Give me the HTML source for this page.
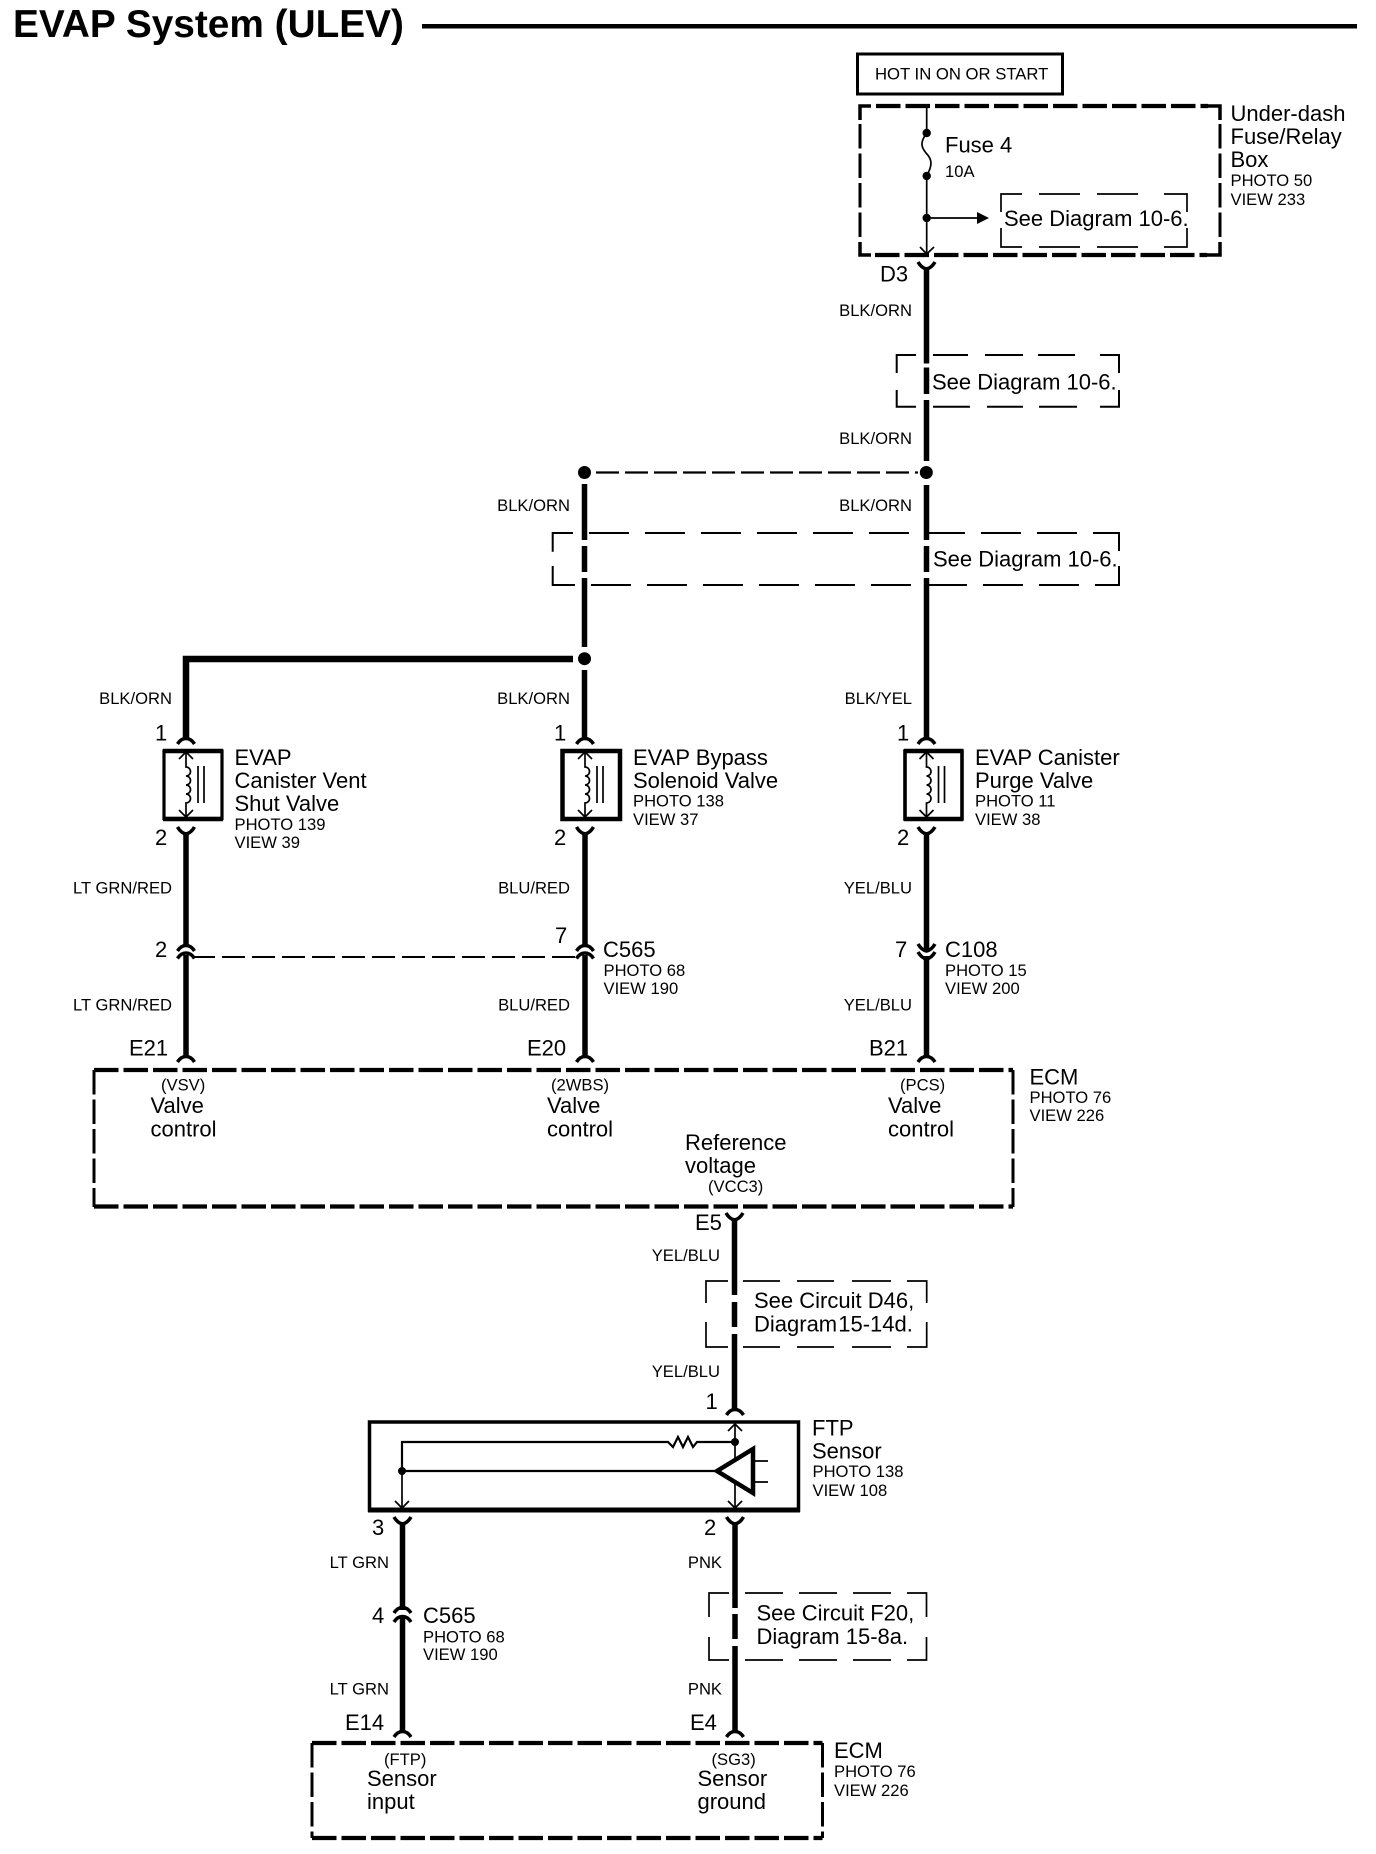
<!DOCTYPE html>
<html><head><meta charset="utf-8"><title>EVAP System (ULEV)</title>
<style>
html,body{margin:0;padding:0;background:#fff}
svg{display:block}
text{font-family:"Liberation Sans",Arial,sans-serif;fill:#000}
.b{font-size:22px}
.s{font-size:16.6px}
.e{text-anchor:end}
.w{fill:none;stroke:#000;stroke-width:5.5}
.t{fill:none;stroke:#000;stroke-width:1.7}
.d{fill:none;stroke:#000;stroke-width:2}
.c{fill:none;stroke:#000;stroke-width:3.5}
.e4{fill:none;stroke:#000;stroke-width:4.2;stroke-dasharray:24.5 5}
.e3{fill:none;stroke:#000;stroke-width:3;stroke-dasharray:24.5 5}
</style></head>
<body>
<svg xmlns="http://www.w3.org/2000/svg" width="1376" height="1854" viewBox="0 0 1376 1854">
<defs>
<path id="arch" class="c" d="M-8.5 7 Q-5 1.5 0 1.5 Q5 1.5 8.5 7"/>
<path id="yy" class="c" d="M-8.5 0 Q-5 6 0 7 Q5 6 8.5 0"/>
<g id="coil">
<path class="t" d="M0 2 V17 a4.5 4.5 0 0 1 0 9 a4.5 4.5 0 0 1 0 9 a4.5 4.5 0 0 1 0 9 a4.5 4.5 0 0 1 0 9 V67"/>
<path class="t" d="M-7 9 L0 2 L7 9 M-7 60 L0 67 L7 60"/>
<path class="t" d="M12 16 V53 M18 16 V53"/>
</g>
</defs>
<rect width="1376" height="1854" fill="#fff"/>

<!-- title -->
<text x="13" y="37" style="font-size:38.8px;font-weight:bold">EVAP System (ULEV)</text>
<rect x="422" y="24" width="935" height="4.5"/>

<!-- hot box -->
<rect x="857.5" y="54" width="205" height="40" fill="none" stroke="#000" stroke-width="3"/>
<text x="875" y="79.5" style="font-size:16.7px">HOT IN ON OR START</text>

<!-- fuse box -->
<path class="e4" d="M876 106 H1208"/>
<path class="c" stroke-width="4" d="M860 120 V106 H871 M1207 106 H1220 V120 M860 242 V255 H871 M1207 255 H1220 V242"/>
<path class="e4" d="M875 255 H1207"/>
<path class="e3" d="M860 124 V242"/>
<path class="e3" d="M1220 124 V242"/>
<path class="t" d="M926.7 106 V133"/>
<circle cx="926.7" cy="133" r="4.2"/>
<path class="t" d="M926.7 133 C920 142 921 147 926 153 C933 160 932 166 926.7 176"/>
<circle cx="926.7" cy="176" r="4.2"/>
<path class="t" d="M926.7 176 V253 M920 247 L926.7 254 L934 247"/>
<circle cx="926.7" cy="218" r="4.2"/>
<path class="t" d="M926.7 218 H980"/>
<path d="M977 212 L989 218 L977 224 Z"/>
<path class="t" d="M1001 212 V194 H1022 M1039 194 H1080 M1097 194 H1138 M1164 194 H1187 V212 M1001 228 V247 H1022 M1039 247 H1080 M1097 247 H1138 M1164 247 H1187 V228"/>
<text class="b" x="945" y="152.5">Fuse 4</text>
<text class="s" x="945" y="177">10A</text>
<text class="b" x="1004" y="226">See Diagram 10-6.</text>
<text class="b" x="1230.5" y="121">Under-dash</text>
<text class="b" x="1230.5" y="144">Fuse/Relay</text>
<text class="b" x="1230.5" y="167">Box</text>
<text class="s" x="1230.5" y="186">PHOTO 50</text>
<text class="s" x="1230.5" y="205">VIEW 233</text>

<!-- top right wire -->
<use href="#yy" x="926.5" y="262"/>
<path class="w" d="M926.5 267 V363.5 M926.5 367.5 V394 M926.5 400 V461"/>
<text class="b" x="880" y="281.5">D3</text>
<text class="s e" x="912" y="316">BLK/ORN</text>
<text class="s e" x="912" y="444">BLK/ORN</text>

<!-- see box 2 -->
<path class="d" d="M896.7 373 V355 H916 M933 355 H968 M985 355 H1023 M1038 355 H1075 M1100 355 H1119 V373 M896.7 390 V406.7 H916 M933 406.7 H970 M987 406.7 H1023 M1039 406.7 H1077 M1100 406.7 H1119 V390"/>
<text class="b" x="932" y="389.5">See Diagram 10-6.</text>

<!-- junction -->
<circle cx="584.5" cy="472.5" r="6.5"/>
<circle cx="926.3" cy="472.5" r="6.5"/>
<path fill="none" stroke="#000" stroke-width="2.2" stroke-dasharray="23 6" d="M596 472.5 H918"/>
<text class="s e" x="570" y="511">BLK/ORN</text>
<text class="s e" x="912" y="511">BLK/ORN</text>

<!-- see box 3 -->
<path class="d" d="M573 533 H552.7 V551.7 M552.7 566 V585 H575 M1119 551 V533 H1100 M1119 566 V585 H1100"/>
<path class="d" stroke-dasharray="40 16" d="M589 533 H1100"/>
<path class="d" stroke-dasharray="40 16" d="M591 585 H1100"/>
<text class="b" x="933" y="566.5">See Diagram 10-6.</text>

<!-- wires col 2 and col 3 upper -->
<path class="w" d="M584.5 484 V540 M584.5 546 V572 M584.5 578 V647 M584.5 670 V739"/>
<path class="w" d="M926.5 485 V540 M926.5 546 V572 M926.5 578 V739"/>
<circle cx="584.5" cy="658.7" r="6.5"/>
<path fill="none" stroke="#000" stroke-width="6.5" d="M573 659 H186 V739"/>

<!-- labels upper -->
<text class="s e" x="172" y="704">BLK/ORN</text>
<text class="s e" x="570" y="704">BLK/ORN</text>
<text class="s e" x="912" y="704">BLK/YEL</text>
<text class="b" x="155" y="740.5">1</text>
<text class="b" x="554" y="740.5">1</text>
<text class="b" x="897" y="740.5">1</text>

<!-- valves -->
<use href="#arch" x="186" y="737"/>
<use href="#arch" x="585" y="737"/>
<use href="#arch" x="926.5" y="737"/>
<path fill="none" stroke="#000" stroke-width="3.2" d="M164 751 H222 V818.5 H164 Z"/>
<path fill="none" stroke="#000" stroke-width="4.5" d="M562.5 751 H620 V819 H562.5 Z"/>
<path fill="none" stroke="#000" stroke-width="3.6" d="M905 751 H962 V819 H905 Z"/>
<path fill="none" stroke="#000" stroke-width="4.5" d="M163 751 H223 M163 819 H223 M904 751 H963 M904 819 H963"/>
<use href="#coil" x="186" y="750"/>
<use href="#coil" x="585" y="750"/>
<use href="#coil" x="926.5" y="750"/>
<use href="#yy" x="186" y="827"/>
<use href="#yy" x="585" y="827"/>
<use href="#yy" x="926.5" y="827"/>
<text class="b" x="155" y="845">2</text>
<text class="b" x="554" y="845">2</text>
<text class="b" x="897" y="845">2</text>

<text class="b" x="234.5" y="765">EVAP</text>
<text class="b" x="234.5" y="788">Canister Vent</text>
<text class="b" x="234.5" y="811">Shut Valve</text>
<text class="s" x="234.5" y="830">PHOTO 139</text>
<text class="s" x="234.5" y="848">VIEW 39</text>

<text class="b" x="633" y="765">EVAP Bypass</text>
<text class="b" x="633" y="788">Solenoid Valve</text>
<text class="s" x="633" y="806.5">PHOTO 138</text>
<text class="s" x="633" y="825">VIEW 37</text>

<text class="b" x="975" y="765">EVAP Canister</text>
<text class="b" x="975" y="788">Purge Valve</text>
<text class="s" x="975" y="806.5">PHOTO 11</text>
<text class="s" x="975" y="825">VIEW 38</text>

<!-- middle wires -->
<path class="w" d="M186 832 V946 M186 955 V1058"/>
<path class="w" d="M585 832 V946 M585 955 V1058"/>
<path class="w" d="M926.5 832 V950 M926.5 956 V1058"/>
<use href="#arch" x="186" y="944"/>
<use href="#arch" x="186" y="951.5"/>
<use href="#arch" x="585" y="944"/>
<use href="#arch" x="585" y="951.5"/>
<use href="#yy" x="926.5" y="944"/>
<use href="#yy" x="926.5" y="952"/>
<path fill="none" stroke="#000" stroke-width="2" stroke-dasharray="23 7" d="M192 957 H576"/>
<text class="s e" x="172" y="893.5">LT GRN/RED</text>
<text class="s e" x="570" y="893.5">BLU/RED</text>
<text class="s e" x="912" y="893.5">YEL/BLU</text>
<text class="b" x="155" y="957">2</text>
<text class="b" x="555" y="943">7</text>
<text class="b" x="895" y="957">7</text>
<text class="b" x="603" y="957">C565</text>
<text class="s" x="603.5" y="976">PHOTO 68</text>
<text class="s" x="603.5" y="994">VIEW 190</text>
<text class="b" x="945" y="957">C108</text>
<text class="s" x="945" y="976">PHOTO 15</text>
<text class="s" x="945" y="994">VIEW 200</text>
<text class="s e" x="172" y="1010.5">LT GRN/RED</text>
<text class="s e" x="570" y="1010.5">BLU/RED</text>
<text class="s e" x="912" y="1010.5">YEL/BLU</text>
<text class="b" x="129" y="1055.5">E21</text>
<text class="b" x="527" y="1055.5">E20</text>
<text class="b" x="869" y="1055.5">B21</text>
<use href="#arch" x="186" y="1055"/>
<use href="#arch" x="585" y="1055"/>
<use href="#arch" x="926.5" y="1055"/>

<!-- ECM 1 -->
<path class="e4" d="M94 1070 H1013"/>
<path class="e4" d="M94 1206.5 H1013"/>
<path class="e3" d="M94 1070 V1207"/>
<path class="e3" d="M1013 1070 V1207"/>
<text class="s" x="161" y="1090.5">(VSV)</text>
<text class="b" x="150.5" y="1113">Valve</text>
<text class="b" x="150.5" y="1136.5">control</text>
<text class="s" x="551" y="1090.5">(2WBS)</text>
<text class="b" x="547" y="1113">Valve</text>
<text class="b" x="547" y="1136.5">control</text>
<text class="s" x="900" y="1090.5">(PCS)</text>
<text class="b" x="888" y="1113">Valve</text>
<text class="b" x="888" y="1136.5">control</text>
<text class="b" x="685" y="1150">Reference</text>
<text class="b" x="685" y="1173">voltage</text>
<text class="s" x="708" y="1192">(VCC3)</text>
<text class="b" x="1029.5" y="1084.5">ECM</text>
<text class="s" x="1029.5" y="1103">PHOTO 76</text>
<text class="s" x="1029.5" y="1121">VIEW 226</text>

<!-- E5 -->
<use href="#yy" x="734.5" y="1213"/>
<path class="w" d="M734.5 1218 V1295 M734.5 1302 V1327 M734.5 1334 V1410"/>
<text class="b" x="695" y="1230">E5</text>
<text class="s e" x="720" y="1261">YEL/BLU</text>
<text class="s e" x="720" y="1377">YEL/BLU</text>
<path class="t" stroke-width="2" d="M706 1303 V1281 H728 M743 1281 H780 M797 1281 H834 M852 1281 H891 M907 1281 H926.7 V1303 M706 1322 V1347 H728 M743 1347 H780 M797 1347 H834 M852 1347 H891 M907 1347 H926.7 V1322"/>
<text class="b" x="754" y="1308">See Circuit D46,</text>
<text class="b" x="754" y="1331.5" style="word-spacing:-5px">Diagram 15-14d.</text>
<text class="b" x="705.5" y="1409">1</text>
<use href="#arch" x="735" y="1408"/>

<!-- FTP sensor -->
<rect x="369.5" y="1422" width="429" height="88" fill="none" stroke="#000" stroke-width="3.5"/>
<path fill="none" stroke="#000" stroke-width="5" d="M368 1510 H800"/>
<path class="t" d="M735 1424 V1508 M728 1431 L735 1424 L742 1431 M728 1501 L735 1508 L742 1501"/>
<path fill="none" stroke="#000" stroke-width="2.2" d="M735 1442 H697 L693 1447 L688 1437 L683 1447 L678 1437 L673 1447 L668 1442 H402 V1471 H717"/>
<path class="t" d="M402 1471 V1508 M395 1501 L402 1508 L409 1501"/>
<circle cx="735" cy="1442" r="4"/>
<circle cx="402" cy="1471" r="4"/>
<path d="M717 1471 L753 1449 V1493 Z" fill="#fff" stroke="#000" stroke-width="4.5"/>
<path class="t" d="M753 1461 H768 M753 1482 H768"/>
<text class="b" x="812" y="1435.5">FTP</text>
<text class="b" x="812" y="1458.5">Sensor</text>
<text class="s" x="812.5" y="1477">PHOTO 138</text>
<text class="s" x="812.5" y="1496">VIEW 108</text>

<!-- bottom wires -->
<use href="#yy" x="402.5" y="1517"/>
<use href="#yy" x="735" y="1517"/>
<path class="w" d="M402.5 1522 V1610 M402.5 1618 V1732"/>
<path class="w" d="M735 1522 V1608 M735 1614 V1639 M735 1646 V1732"/>
<use href="#arch" x="402.5" y="1606"/>
<use href="#arch" x="402.5" y="1615"/>
<use href="#arch" x="402.5" y="1730"/>
<use href="#arch" x="735" y="1730"/>
<text class="b" x="372" y="1535">3</text>
<text class="b" x="704" y="1535">2</text>
<text class="s e" x="389" y="1568">LT GRN</text>
<text class="s e" x="722" y="1568">PNK</text>
<text class="b" x="372" y="1623">4</text>
<text class="b" x="423" y="1623">C565</text>
<text class="s" x="423" y="1642.5">PHOTO 68</text>
<text class="s" x="423" y="1660">VIEW 190</text>
<path class="t" stroke-width="2" d="M709 1617 V1593 H729 M745 1593 H783 M799 1593 H837 M853 1593 H891 M907 1593 H926.5 V1617 M709 1637 V1660 H729 M745 1660 H783 M799 1660 H837 M853 1660 H891 M907 1660 H926.5 V1637"/>
<text class="b" x="756.5" y="1620.5">See Circuit F20,</text>
<text class="b" x="756.5" y="1644">Diagram 15-8a.</text>
<text class="s e" x="389" y="1694.5">LT GRN</text>
<text class="s e" x="722" y="1694.5">PNK</text>
<text class="b" x="345" y="1730">E14</text>
<text class="b" x="690" y="1730">E4</text>

<!-- ECM 2 -->
<path class="e4" d="M312 1743 H822.5"/>
<path class="e4" d="M312 1838 H822.5"/>
<path class="e3" d="M312 1743 V1838"/>
<path class="e3" d="M822.5 1743 V1838"/>
<text class="s" x="384" y="1765">(FTP)</text>
<text class="b" x="367" y="1786">Sensor</text>
<text class="b" x="367" y="1809">input</text>
<text class="s" x="711.5" y="1765">(SG3)</text>
<text class="b" x="697.5" y="1786">Sensor</text>
<text class="b" x="697.5" y="1809">ground</text>
<text class="b" x="834" y="1758">ECM</text>
<text class="s" x="834" y="1777">PHOTO 76</text>
<text class="s" x="834" y="1796">VIEW 226</text>
</svg>
</body></html>
